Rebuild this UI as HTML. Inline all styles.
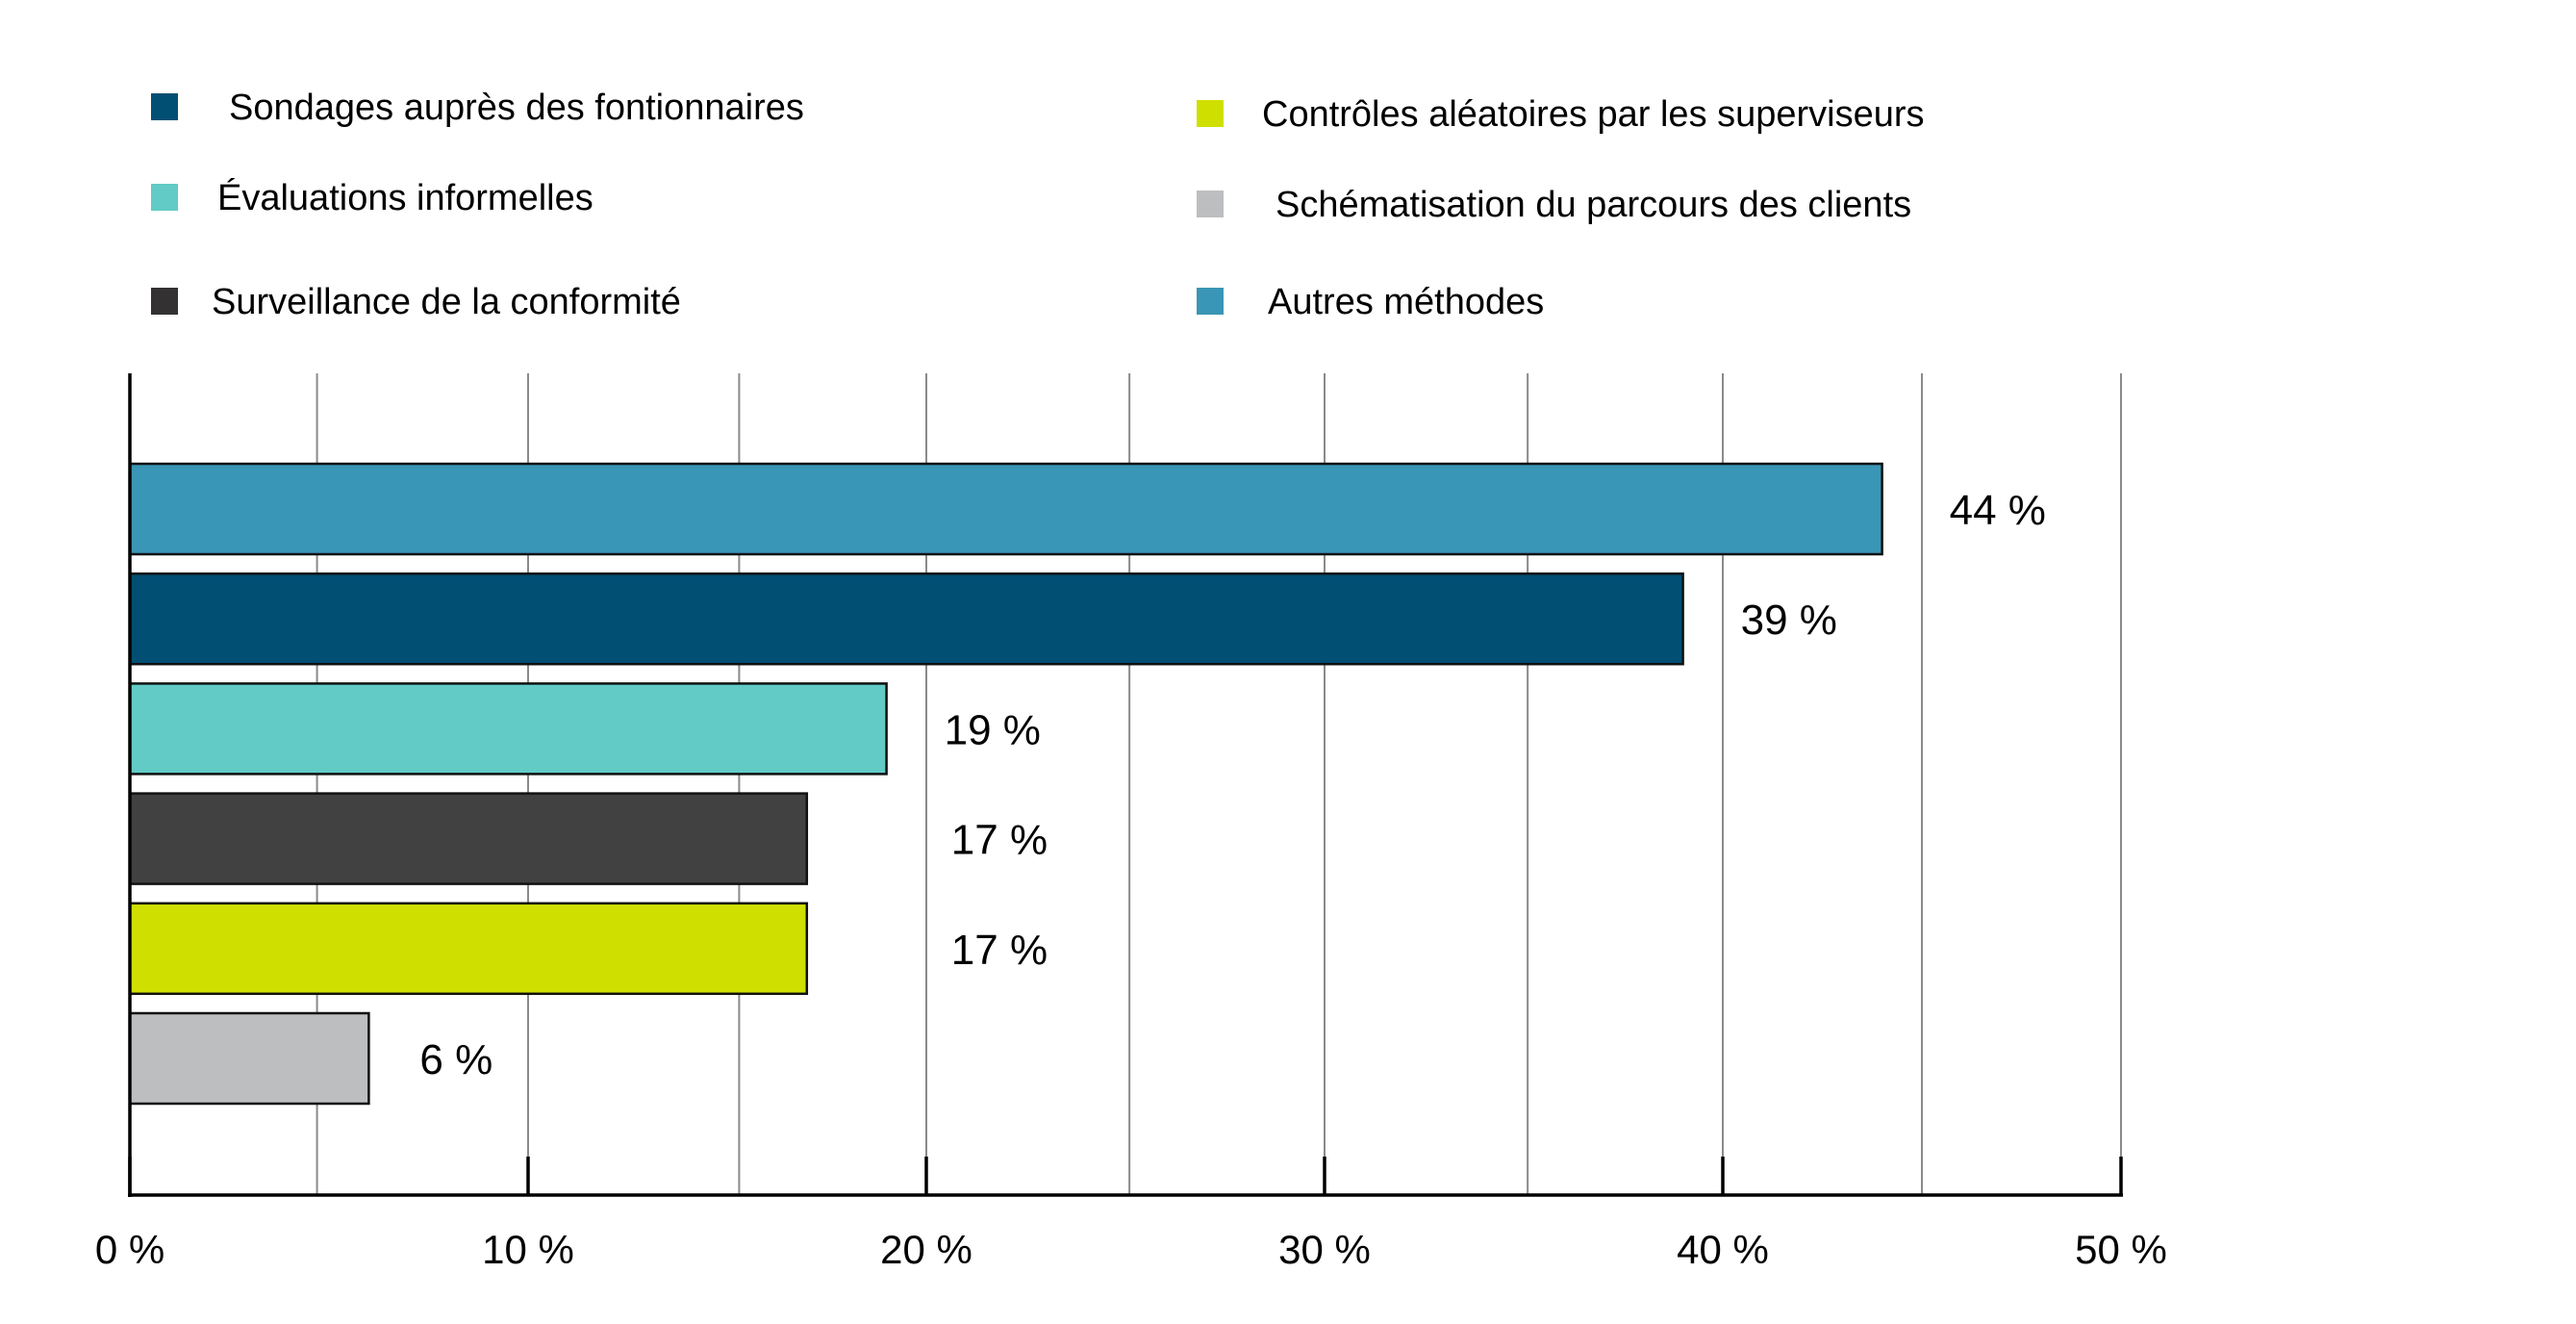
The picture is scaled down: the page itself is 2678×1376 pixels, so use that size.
<!DOCTYPE html>
<html><head><meta charset="utf-8"><style>
html,body{margin:0;padding:0;background:#fff}
svg{display:block;font-family:"Liberation Sans",sans-serif}
</style></head><body>
<svg id="chart" width="2678" height="1376" viewBox="0 0 2678 1376" xmlns="http://www.w3.org/2000/svg">
<g>
<rect x="157" y="97" width="28" height="28" fill="#014f73"/>
<text x="238" y="124" font-size="38">Sondages auprès des fontionnaires</text>
<rect x="157" y="191" width="28" height="28" fill="#62cbc6"/>
<text x="226" y="218" font-size="38">Évaluations informelles</text>
<rect x="157" y="299" width="28" height="28" fill="#333132"/>
<text x="220" y="326" font-size="38">Surveillance de la conformité</text>
<rect x="1244" y="104" width="28" height="28" fill="#cfe000"/>
<text x="1312" y="131" font-size="38">Contrôles aléatoires par les superviseurs</text>
<rect x="1244" y="198" width="28" height="28" fill="#bdbec0"/>
<text x="1326" y="225" font-size="38">Schématisation du parcours des clients</text>
<rect x="1244" y="299" width="28" height="28" fill="#3a96b6"/>
<text x="1318" y="326" font-size="38">Autres méthodes</text>
</g>
<g id="grid"></g>
<g id="bars"></g>
<g id="axes"></g>
</svg>
<script>
const categories = ["Autres méthodes","Sondages auprès des fontionnaires","Évaluations informelles","Surveillance de la conformité","Contrôles aléatoires par les superviseurs","Schématisation du parcours des clients"];
const values = [44,39,19,17,17,6];
const valueLabels = ["44 %","39 %","19 %","17 %","17 %","6 %"];
const colors = ["#3a96b6","#014f73","#62cbc6","#414141","#cfe000","#bdbec0"];
const ticks = [0,10,20,30,40,50];
const tickLabels = ["0 %","10 %","20 %","30 %","40 %","50 %"];
const minorGrid = [4.7,15.3,25.1,35.1,45];

// layout (not data): horizontal gap between bar end and its value label
const labelGap = [70,60,60,150,150,53];

const NS="http://www.w3.org/2000/svg";
const x0=135, x1=2205, yTop=388, yAxis=1242;
const xScale=v=>x0+(x1-x0)*v/50;
const barTop=482, barStep=114.2, barH=94;
const yScale=i=>barTop+i*barStep;
function mk(tag,attrs,parent){const e=document.createElementNS(NS,tag);for(const k in attrs)e.setAttribute(k,attrs[k]);parent.appendChild(e);return e;}
const grid=document.getElementById('grid'), bars=document.getElementById('bars'), axes=document.getElementById('axes');
ticks.concat(minorGrid).forEach(t=>{ if(t===0)return;
  const l=mk('line',{x1:xScale(t),x2:xScale(t),y1:yTop,y2:yAxis,stroke:'#8a8a8a','stroke-width':2},grid);
  
  
});
values.forEach((v,i)=>{
  const r=mk('rect',{x:x0,y:yScale(i),width:xScale(v)-x0,height:barH,fill:colors[i],stroke:'#111','stroke-width':2.5},bars);
  
  
  const t=mk('text',{x:xScale(v)+labelGap[i],y:yScale(i)+barH/2+16,'font-size':44,fill:'#000'},bars);
  t.textContent=valueLabels[i];
  
  
});
const ya=mk('line',{x1:x0,x2:x0,y1:yTop,y2:yAxis+2,stroke:'#000','stroke-width':3.5},axes);


const xa=mk('line',{x1:x0-2,x2:xScale(50)+2,y1:yAxis,y2:yAxis,stroke:'#000','stroke-width':3.5},axes);


ticks.forEach((t,i)=>{
  const tk=mk('line',{x1:xScale(t),x2:xScale(t),y1:yAxis-40,y2:yAxis,stroke:'#000','stroke-width':3.5},axes);
  
  
  const lb=mk('text',{x:xScale(t),y:1313,'font-size':42,'text-anchor':'middle',fill:'#000'},axes);
  lb.textContent=tickLabels[i];
  
  
});
</script>
</body></html>
